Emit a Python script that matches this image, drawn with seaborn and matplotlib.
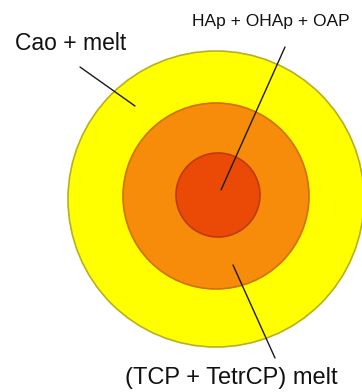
import matplotlib
matplotlib.use("Agg")
import matplotlib.pyplot as plt
from matplotlib.patches import Circle
import seaborn as sns

# concentric zones (outer -> inner), in image units
zones = ["Cao + melt", "(TCP + TetrCP) melt", "HAp + OHAp + OAP"]
zone_radius = [148, 93, 42]
zone_center_x = [216, 216, 218]
zone_center_y = [199, 196, 195]
zone_colors = ["#FFFF00", "#F78B0A", "#EA4A06"]
edge_colors = ["#B8B020", "#D07008", "#C03A05"]

# label positions and leader lines (start -> end)
label_x = [15, 231, 271]
label_y = [43, 378, 21]
label_size = [16.5, 17, 12.5]
label_ha = ["left", "center", "center"]
leader_x = [(80, 135), (275, 233), (285, 221)]
leader_y = [(67, 106), (358, 265), (47, 190)]


def concentric_zones():
    sns.set_theme(style="white")
    fig = plt.figure(figsize=(3.62, 3.92), dpi=100)
    ax = fig.add_axes([0, 0, 1, 1])

    for r, cx, cy, fc, ec in zip(zone_radius, zone_center_x, zone_center_y,
                                 zone_colors, edge_colors):
        ax.add_patch(Circle((cx, cy), r, facecolor=fc, edgecolor=ec, lw=1.2))

    for xs, ys in zip(leader_x, leader_y):
        ax.plot(xs, ys, color="#1a1a1a", lw=1.0)

    for name, x, y, s, ha in zip(zones, label_x, label_y, label_size, label_ha):
        ax.text(x, y, name, fontsize=s, ha=ha, va="center",
                family="Liberation Sans", color="#111111")

    ax.set_xlim(0, 362)
    ax.set_ylim(392, 0)
    ax.set_aspect("equal")
    ax.axis("off")
    fig.savefig("out.png", dpi=100, facecolor="white")


if __name__ == "__main__":
    concentric_zones()
